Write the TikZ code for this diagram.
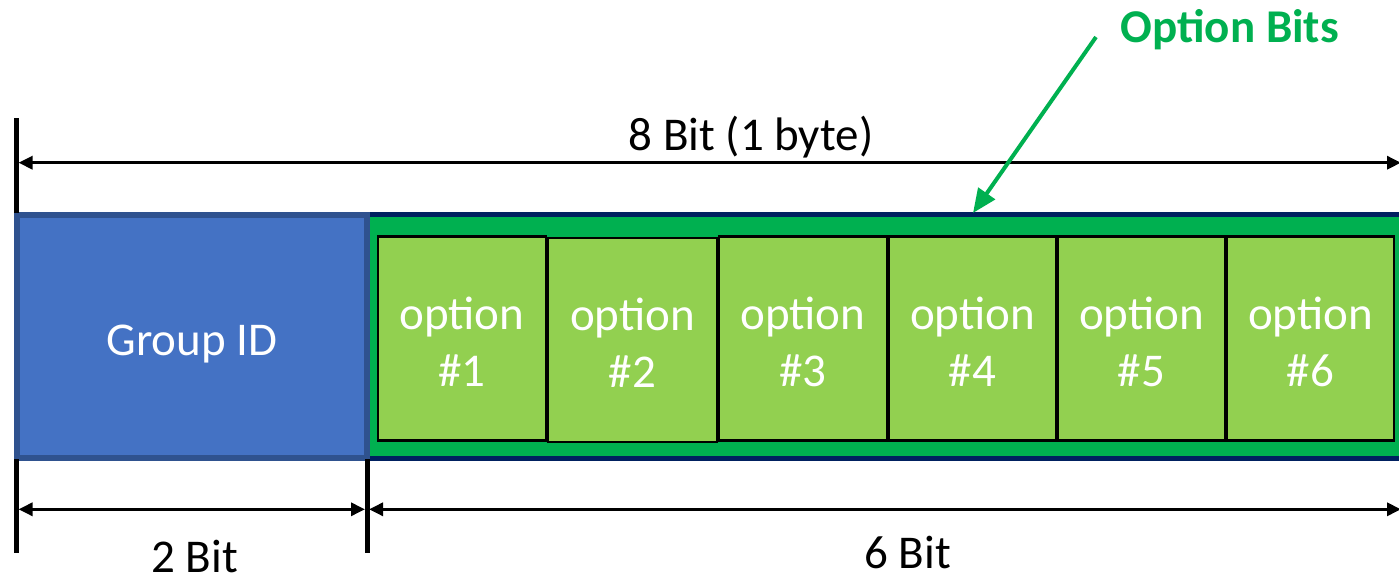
\documentclass[tikz,border=0pt]{standalone}
\usepackage{fontspec}
\setmainfont{Carlito}
\usetikzlibrary{arrows.meta}
\definecolor{gidblue}{HTML}{4472C4}
\definecolor{gidedge}{HTML}{2F528F}
\definecolor{optgreen}{HTML}{00B050}
\definecolor{optlight}{HTML}{92D050}
\definecolor{navyedge}{HTML}{002060}
\newcommand{\optlab}[1]{\rule{0pt}{38.5pt}option\\\##1}
\begin{document}
\begin{tikzpicture}[x=1pt,y=-1pt,
  big/.style={font=\fontsize{47}{57}\selectfont},
  tickline/.style={line width=5pt},
  dimline/.style={line width=3pt,{Triangle[length=14pt,width=13pt]}-{Triangle[length=14pt,width=13pt]}},
  gidbox/.style={big,draw=gidedge,fill=gidblue,line width=6pt,text=white,inner sep=0pt,
    minimum width=350pt,minimum height=243pt},
  bitsbox/.style={draw=navyedge,fill=optgreen,line width=5pt,inner sep=0pt,
    minimum width=1042pt,minimum height=244pt},
  optbox/.style={big,draw=black,fill=optlight,line width=2.6pt,text=white,inner sep=0pt,
    minimum height=204pt,align=center},
  dimlabel/.style={big,text=black,anchor=base},
  callout/.style={font=\fontsize{47}{57}\selectfont\bfseries,text=optgreen,anchor=base west},
  calloutarrow/.style={draw=optgreen,line width=4pt,-{Triangle[length=24pt,width=20pt]}}
]
\useasboundingbox (0,0) rectangle (1399,573);
\clip (0,0) rectangle (1399,573);

% option bits container and group id box
\node[bitsbox] (bits) at (888.5,336.5) {};
\node[gidbox] (gid) at (192,336.5) {\raisebox{-18.5pt}[0pt][0pt]{Group ID}};

% option boxes
\node[optbox,minimum width=168pt] (o1) at (462,338.5) {\optlab{1}};
\node[optbox,minimum width=169pt] (o2) at (632.5,340) {\optlab{2}};
\node[optbox,minimum width=168pt] (o3) at (803,338.5) {\optlab{3}};
\node[optbox,minimum width=167pt] (o4) at (972.5,338.5) {\optlab{4}};
\node[optbox,minimum width=167pt] (o5) at (1141.5,338.5) {\optlab{5}};
\node[optbox,minimum width=167pt] (o6) at (1310.5,338.5) {\optlab{6}};

% tick marks
\coordinate (t0a) at (16.5,118);
\coordinate (t0b) at (16.5,213);
\coordinate (t1a) at (16.5,459);
\coordinate (t1b) at (16.5,553);
\coordinate (t2a) at (367,459);
\coordinate (t2b) at (367,553);
\draw[tickline] (t0a) -- (t0b);
\draw[tickline] (t1a) -- (t1b);
\draw[tickline] (t2a) -- (t2b);

% dimension arrows
\coordinate (a8l) at (18.5,162.7);
\coordinate (a8r) at (1401,162.7);
\coordinate (a2l) at (18.5,509.3);
\coordinate (a2r) at (365,509.3);
\coordinate (a6l) at (369,509.3);
\coordinate (a6r) at (1401,509.3);
\draw[dimline] (a8l) -- (a8r);
\draw[dimline] (a2l) -- (a2r);
\draw[dimline] (a6l) -- (a6r);

% dimension labels
\node[dimlabel] (l8) at (751,150) {8 Bit (1 byte)};
\node[dimlabel] (l2) at (194.5,572.5) {2 Bit};
\node[dimlabel] (l6) at (907.5,568) {6 Bit};

% callout
\node[callout] (cl) at (1117,42) {Option Bits};
\coordinate (cs) at (1096,37);
\coordinate (ce) at (973,213);
\draw[calloutarrow] (cs) -- (ce);
\end{tikzpicture}
\end{document}
